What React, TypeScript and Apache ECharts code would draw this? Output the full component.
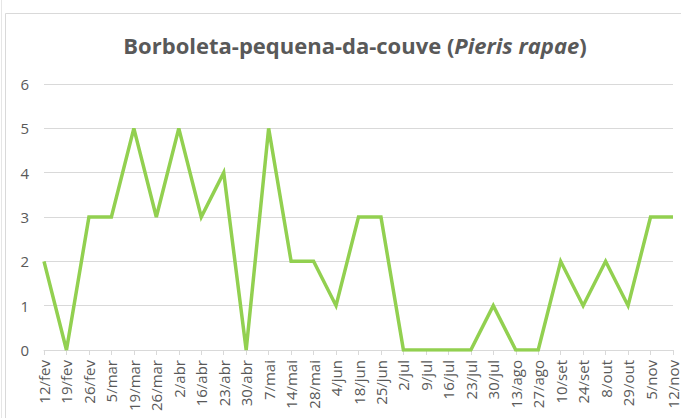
import React, { useEffect, useRef } from "react";
import * as echarts from "echarts";

const categories = [
  "12/fev", "19/fev", "26/fev", "5/mar", "19/mar", "26/mar", "2/abr", "16/abr",
  "23/abr", "30/abr", "7/mai", "14/mai", "28/mai", "4/jun", "18/jun", "25/jun",
  "2/jul", "9/jul", "16/jul", "23/jul", "30/jul", "13/ago", "27/ago", "10/set",
  "24/set", "8/out", "29/out", "5/nov", "12/nov",
];
const counts = [
  2, 0, 3, 3, 5, 3, 5, 3, 4, 0, 5, 2, 2, 1, 3, 3, 0, 0, 0, 0, 1, 0, 0, 2, 1, 2, 1, 3, 3,
];
const yTicks = [0, 1, 2, 3, 4, 5, 6];
const titleMain = "Borboleta-pequena-da-couve ";
const titleItalic = "Pieris rapae";

export default function App() {
  const ref = useRef<HTMLDivElement>(null);
  useEffect(() => {
    if (!ref.current) return;
    const chart = echarts.init(ref.current, null, { renderer: "svg" });
    const font = "'Open Sans', 'Liberation Sans', sans-serif";
    chart.setOption({
      animation: false,
      backgroundColor: "#ffffff",
      graphic: [
        {
          type: "rect",
          shape: { x: 5.5, y: 13.5, width: 700, height: 420 },
          style: { fill: "none", stroke: "#d9d9d9", lineWidth: 1 },
          silent: true,
        },
        {
          type: "line",
          shape: { x1: 1.5, y1: 0, x2: 1.5, y2: 418 },
          style: { stroke: "#e6e6e6", lineWidth: 1 },
          silent: true,
        },
      ],
      title: {
        text: `{a|${titleMain}(}{b|${titleItalic}}{a|)}`,
        left: 350,
        textAlign: "center",
        top: 29,
        textStyle: {
          rich: {
            a: { fontFamily: font, fontSize: 22, fontWeight: "bold", color: "#595959" },
            b: { fontFamily: font, fontSize: 22, fontWeight: "bold", fontStyle: "italic", color: "#595959" },
          },
        },
      },
      grid: { left: 44, right: 8, top: 84, bottom: 68, containLabel: false },
      xAxis: {
        type: "category",
        data: categories,
        boundaryGap: false,
        axisLine: { lineStyle: { color: "#d9d9d9" } },
        axisTick: { show: true, alignWithLabel: true, length: 5, lineStyle: { color: "#d9d9d9" } },
        axisLabel: {
          rotate: 90,
          interval: 0,
          color: "#595959",
          fontFamily: font,
          fontSize: 15,
          margin: 10,
        },
        splitLine: { show: false },
      },
      yAxis: {
        type: "value",
        min: yTicks[0],
        max: yTicks[yTicks.length - 1],
        interval: 1,
        axisLine: { show: false },
        axisTick: { show: false },
        axisLabel: { color: "#595959", fontFamily: font, fontSize: 15, margin: 15 },
        splitLine: { lineStyle: { color: "#d9d9d9", width: 1 } },
      },
      series: [
        {
          type: "line",
          data: counts,
          showSymbol: false,
          symbol: "none",
          lineStyle: { color: "#92d050", width: 3.5, join: "miter" },
        },
      ],
    });
    return () => chart.dispose();
  }, []);
  return <div ref={ref} style={{ width: 681, height: 418, position: "absolute", left: 0, top: 0 }} />;
}
